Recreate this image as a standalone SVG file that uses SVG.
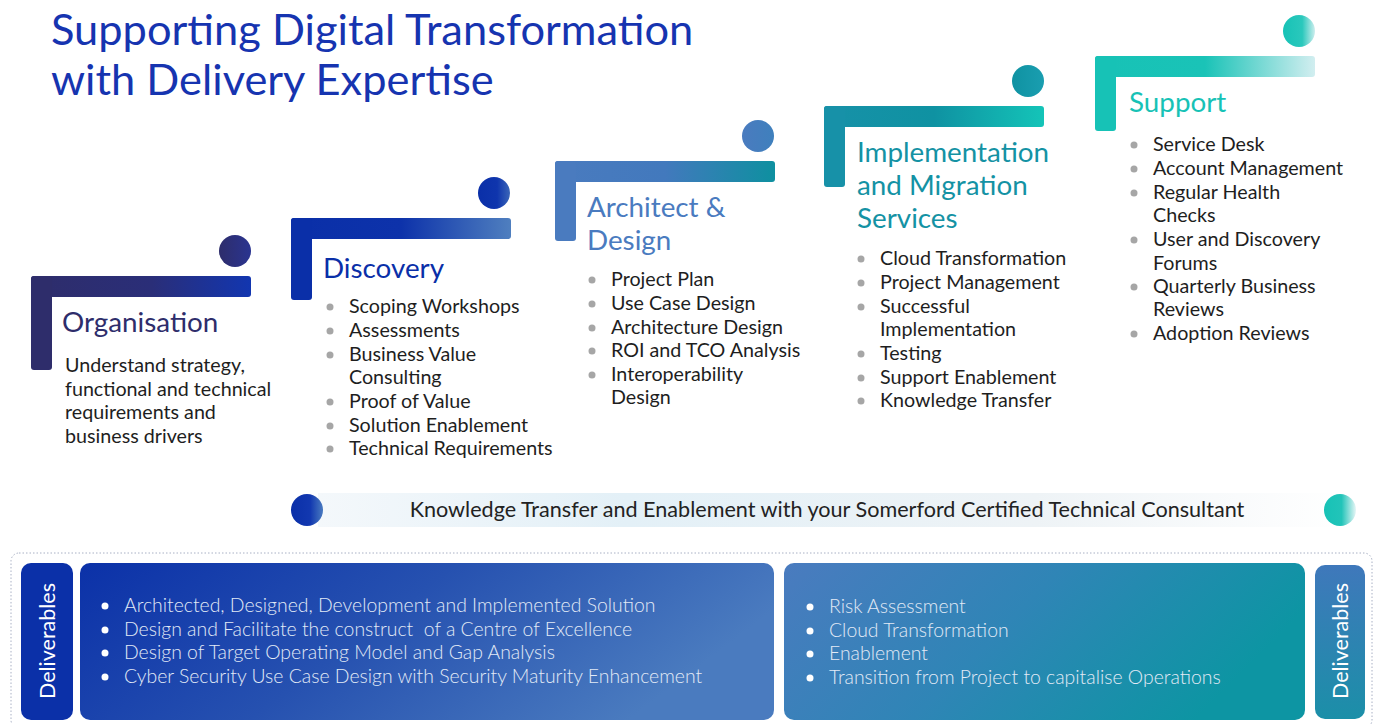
<svg xmlns="http://www.w3.org/2000/svg" width="1375" height="724" viewBox="0 0 1375 724">
<defs>
<linearGradient id="gOrg" x1="0" y1="0" x2="1" y2="0"><stop offset="0" stop-color="#2e2d6b"/><stop offset="0.55" stop-color="#2a2e78"/><stop offset="1" stop-color="#1236b0"/></linearGradient>
<linearGradient id="gOrgC" x1="0" y1="0" x2="1" y2="0"><stop offset="0" stop-color="#2e2d6b"/><stop offset="1" stop-color="#2a3490"/></linearGradient>
<linearGradient id="gDis" x1="0" y1="0" x2="1" y2="0"><stop offset="0" stop-color="#0a2fa8"/><stop offset="0.5" stop-color="#0d32aa"/><stop offset="1" stop-color="#4f7fbf"/></linearGradient>
<linearGradient id="gDisC" x1="0" y1="0" x2="1" y2="0"><stop offset="0" stop-color="#0a2fa8"/><stop offset="0.6" stop-color="#0f35ad"/><stop offset="1" stop-color="#3b66b8"/></linearGradient>
<linearGradient id="gArc" x1="0" y1="0" x2="1" y2="0"><stop offset="0" stop-color="#4a7bbf"/><stop offset="0.5" stop-color="#4279bd"/><stop offset="1" stop-color="#0e90a0"/></linearGradient>
<linearGradient id="gArcC" x1="0" y1="0" x2="1" y2="0"><stop offset="0" stop-color="#4a7bbf"/><stop offset="1" stop-color="#3f80bd"/></linearGradient>
<linearGradient id="gImp" x1="0" y1="0" x2="1" y2="0"><stop offset="0" stop-color="#1791a8"/><stop offset="0.5" stop-color="#0f92a2"/><stop offset="1" stop-color="#14c4b8"/></linearGradient>
<linearGradient id="gImpC" x1="0" y1="0" x2="1" y2="0"><stop offset="0" stop-color="#0f92a2"/><stop offset="1" stop-color="#1a9eb0"/></linearGradient>
<linearGradient id="gSup" x1="0" y1="0" x2="1" y2="0"><stop offset="0" stop-color="#17c2b6"/><stop offset="0.5" stop-color="#1ac3b7"/><stop offset="1" stop-color="#d2eef0"/></linearGradient>
<linearGradient id="gSupC" x1="0" y1="0" x2="1" y2="0"><stop offset="0" stop-color="#17c2b6"/><stop offset="0.6" stop-color="#2ac8bc"/><stop offset="1" stop-color="#cdeeee"/></linearGradient>
<linearGradient id="gBar" x1="0" y1="0" x2="1" y2="0"><stop offset="0" stop-color="#f4f8fb"/><stop offset="0.3" stop-color="#e3f0f7"/><stop offset="0.7" stop-color="#eef3f6"/><stop offset="1" stop-color="#ffffff"/></linearGradient>
<linearGradient id="gBlueDot" x1="0" y1="0" x2="1" y2="0"><stop offset="0" stop-color="#0a2fa8"/><stop offset="0.6" stop-color="#1238b0"/><stop offset="1" stop-color="#4a7bc0"/></linearGradient>
<linearGradient id="gTealDot" x1="0" y1="0" x2="1" y2="0"><stop offset="0" stop-color="#17c2b6"/><stop offset="0.55" stop-color="#22c4b9"/><stop offset="1" stop-color="#e6f6f6"/></linearGradient>
<linearGradient id="gBox1" x1="0" y1="0" x2="1" y2="0.3"><stop offset="0" stop-color="#0b31a8"/><stop offset="0.5" stop-color="#2651b0"/><stop offset="1" stop-color="#4a7bbf"/></linearGradient>
<linearGradient id="gBox2" x1="0" y1="0" x2="1" y2="0.3"><stop offset="0" stop-color="#4a7bbf"/><stop offset="0.5" stop-color="#2f85b6"/><stop offset="1" stop-color="#0d95a3"/></linearGradient>
<linearGradient id="gDel2" x1="0" y1="0" x2="0" y2="1"><stop offset="0" stop-color="#3f78bb"/><stop offset="1" stop-color="#1b8fa8"/></linearGradient>
</defs>
<style>
text{font-family:Lato,"Open Sans","Liberation Sans",sans-serif}
.h1{font-size:43.4px;fill:#1634b0}
.stage{font-size:27.8px}
.item{font-size:19.7px;fill:#1e1e1e}
.dot{fill:#a6a6a6}
.wb{font-size:19.4px;fill:#e2eaf6;font-weight:300}
.wdot{fill:#ffffff}
.del{font-size:21.5px;fill:#ffffff}
</style>

<g id="title">
<text class="h1" x="51" y="45">Supporting Digital Transformation</text>
<text class="h1" x="51" y="95">with Delivery Expertise</text>
</g>

<g id="organisation">
<circle cx="235" cy="251" r="16" fill="url(#gOrgC)"/>
<rect x="31" y="276" width="220" height="21" rx="3" fill="url(#gOrg)"/>
<rect x="31" y="276" width="21" height="94" rx="3" fill="#2e2d6b"/>
<text class="stage" x="62" y="332" fill="#2e2d6b">Organisation</text>
<text class="item" x="65" y="372">Understand strategy,</text>
<text class="item" x="65" y="396">functional and technical</text>
<text class="item" x="65" y="419">requirements and</text>
<text class="item" x="65" y="443">business drivers</text>
</g>

<g id="discovery">
<circle cx="494" cy="193" r="16" fill="url(#gDisC)"/>
<rect x="291" y="218" width="220" height="21" rx="3" fill="url(#gDis)"/>
<rect x="291" y="218" width="21" height="82" rx="3" fill="#0a2fa8"/>
<text class="stage" x="323" y="278" fill="#0a2fa8">Discovery</text>
<g class="dot"><circle cx="330" cy="307" r="3.5"/><circle cx="330" cy="331" r="3.5"/><circle cx="330" cy="355" r="3.5"/><circle cx="330" cy="402" r="3.5"/><circle cx="330" cy="426" r="3.5"/><circle cx="330" cy="449" r="3.5"/></g>
<text class="item" x="349" y="313">Scoping Workshops</text>
<text class="item" x="349" y="337">Assessments</text>
<text class="item" x="349" y="361">Business Value</text>
<text class="item" x="349" y="384">Consulting</text>
<text class="item" x="349" y="408">Proof of Value</text>
<text class="item" x="349" y="432">Solution Enablement</text>
<text class="item" x="349" y="455">Technical Requirements</text>
</g>

<g id="architect">
<circle cx="758" cy="136" r="16" fill="url(#gArcC)"/>
<rect x="555" y="161" width="220" height="21" rx="3" fill="url(#gArc)"/>
<rect x="555" y="161" width="21" height="80" rx="3" fill="#4a7bbf"/>
<text class="stage" x="587" y="217" fill="#4a7bbf">Architect &amp;</text>
<text class="stage" x="587" y="250" fill="#4a7bbf">Design</text>
<g class="dot"><circle cx="592" cy="280" r="3.5"/><circle cx="592" cy="304" r="3.5"/><circle cx="592" cy="328" r="3.5"/><circle cx="592" cy="351" r="3.5"/><circle cx="592" cy="375" r="3.5"/></g>
<text class="item" x="611" y="286">Project Plan</text>
<text class="item" x="611" y="310">Use Case Design</text>
<text class="item" x="611" y="334">Architecture Design</text>
<text class="item" x="611" y="357">ROI and TCO Analysis</text>
<text class="item" x="611" y="381">Interoperability</text>
<text class="item" x="611" y="404">Design</text>
</g>

<g id="implementation">
<circle cx="1028" cy="81" r="16" fill="url(#gImpC)"/>
<rect x="824" y="106" width="220" height="21" rx="3" fill="url(#gImp)"/>
<rect x="824" y="106" width="21" height="81" rx="3" fill="#1791a8"/>
<text class="stage" x="857" y="162" fill="#1492a4">Implementation</text>
<text class="stage" x="857" y="195" fill="#1492a4">and Migration</text>
<text class="stage" x="857" y="228" fill="#1492a4">Services</text>
<g class="dot"><circle cx="861" cy="259" r="3.5"/><circle cx="861" cy="283" r="3.5"/><circle cx="861" cy="307" r="3.5"/><circle cx="861" cy="354" r="3.5"/><circle cx="861" cy="378" r="3.5"/><circle cx="861" cy="401" r="3.5"/></g>
<text class="item" x="880" y="265">Cloud Transformation</text>
<text class="item" x="880" y="289">Project Management</text>
<text class="item" x="880" y="313">Successful</text>
<text class="item" x="880" y="336">Implementation</text>
<text class="item" x="880" y="360">Testing</text>
<text class="item" x="880" y="384">Support Enablement</text>
<text class="item" x="880" y="407">Knowledge Transfer</text>
</g>

<g id="support">
<circle cx="1299" cy="31" r="16" fill="url(#gSupC)"/>
<rect x="1095" y="56" width="220" height="21" rx="3" fill="url(#gSup)"/>
<rect x="1095" y="56" width="21" height="75" rx="3" fill="#17c2b6"/>
<text class="stage" x="1129" y="112" fill="#17c2b6">Support</text>
<g class="dot"><circle cx="1134" cy="145" r="3.5"/><circle cx="1134" cy="169" r="3.5"/><circle cx="1134" cy="193" r="3.5"/><circle cx="1134" cy="240" r="3.5"/><circle cx="1134" cy="287" r="3.5"/><circle cx="1134" cy="334" r="3.5"/></g>
<text class="item" x="1153" y="151">Service Desk</text>
<text class="item" x="1153" y="175">Account Management</text>
<text class="item" x="1153" y="199">Regular Health</text>
<text class="item" x="1153" y="222">Checks</text>
<text class="item" x="1153" y="246">User and Discovery</text>
<text class="item" x="1153" y="270">Forums</text>
<text class="item" x="1153" y="293">Quarterly Business</text>
<text class="item" x="1153" y="316">Reviews</text>
<text class="item" x="1153" y="340">Adoption Reviews</text>
</g>

<g id="knowledge-bar">
<rect x="318" y="493" width="1025" height="34" fill="url(#gBar)"/>
<circle cx="307" cy="510" r="16" fill="url(#gBlueDot)"/>
<circle cx="1340" cy="510" r="16" fill="url(#gTealDot)"/>
<text x="827" y="517" text-anchor="middle" font-size="21.6" fill="#222">Knowledge Transfer and Enablement with your Somerford Certified Technical Consultant</text>
</g>

<g id="deliverables">
<rect x="11" y="553" width="1361" height="175" rx="8" fill="none" stroke="#a8b0c4" stroke-width="1" stroke-dasharray="1.5 2"/>
<rect x="21" y="563" width="52" height="157" rx="10" fill="#0b30a8"/>
<text class="del" transform="translate(55,641) rotate(-90)" text-anchor="middle">Deliverables</text>
<rect x="80" y="563" width="694" height="157" rx="10" fill="url(#gBox1)"/>
<g class="wdot"><circle cx="105" cy="606" r="3.5"/><circle cx="105" cy="630" r="3.5"/><circle cx="105" cy="653" r="3.5"/><circle cx="105" cy="677" r="3.5"/></g>
<text class="wb" x="124" y="612">Architected, Designed, Development and Implemented Solution</text>
<text class="wb" x="124" y="636" xml:space="preserve">Design and Facilitate the construct  of a Centre of Excellence</text>
<text class="wb" x="124" y="659">Design of Target Operating Model and Gap Analysis</text>
<text class="wb" x="124" y="683">Cyber Security Use Case Design with Security Maturity Enhancement</text>
<rect x="784" y="563" width="521" height="157" rx="10" fill="url(#gBox2)"/>
<g class="wdot"><circle cx="810" cy="607" r="3.5"/><circle cx="810" cy="631" r="3.5"/><circle cx="810" cy="654" r="3.5"/><circle cx="810" cy="678" r="3.5"/></g>
<text class="wb" x="829" y="613">Risk Assessment</text>
<text class="wb" x="829" y="637">Cloud Transformation</text>
<text class="wb" x="829" y="660">Enablement</text>
<text class="wb" x="829" y="684">Transition from Project to capitalise Operations</text>
<rect x="1315" y="565" width="50" height="154" rx="10" fill="url(#gDel2)"/>
<text class="del" transform="translate(1348,641) rotate(-90)" text-anchor="middle">Deliverables</text>
</g>
</svg>
